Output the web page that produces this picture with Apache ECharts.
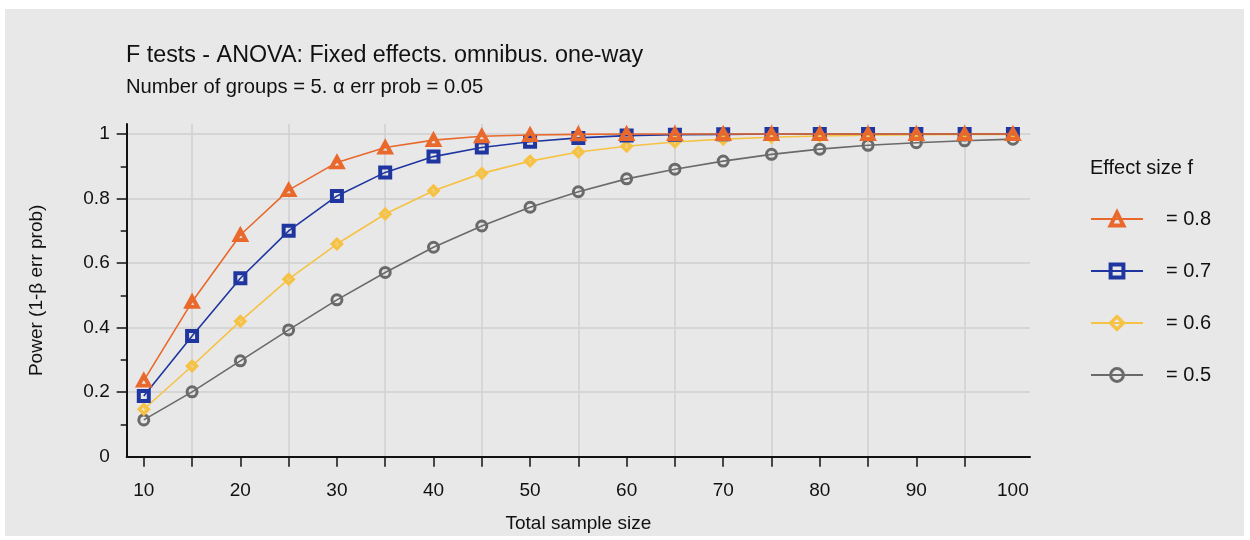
<!DOCTYPE html>
<html>
<head>
<meta charset="utf-8">
<script src="https://cdn.jsdelivr.net/npm/echarts@6/dist/echarts.min.js"></script>
<style>
  html, body { margin: 0; padding: 0; background: #ffffff; }
  #chart { width: 1250px; height: 540px; }
</style>
</head>
<body>
<div id="chart"></div>
<script>
// Total sample size (x) and power (1-β) for each effect size f
const sampleSizes = [10, 15, 20, 25, 30, 35, 40, 45, 50, 55, 60, 65, 70, 75, 80, 85, 90, 95, 100];
const powerF08 = [0.236, 0.480, 0.687, 0.826, 0.912, 0.958, 0.981, 0.993, 0.997, 0.999, 1.0, 1.0, 1.0, 1.0, 1.0, 1.0, 1.0, 1.0, 1.0];
const powerF07 = [0.188, 0.374, 0.553, 0.700, 0.808, 0.881, 0.930, 0.958, 0.976, 0.988, 0.995, 0.998, 0.999, 1.0, 1.0, 1.0, 1.0, 1.0, 1.0];
const powerF06 = [0.147, 0.281, 0.420, 0.550, 0.659, 0.752, 0.824, 0.878, 0.916, 0.944, 0.962, 0.975, 0.984, 0.990, 0.994, 0.996, 0.998, 0.999, 0.999];
const powerF05 = [0.114, 0.201, 0.297, 0.393, 0.486, 0.571, 0.649, 0.715, 0.773, 0.821, 0.861, 0.891, 0.916, 0.937, 0.953, 0.965, 0.973, 0.979, 0.984];

const seriesNames = ['= 0.8', '= 0.7', '= 0.6', '= 0.5'];

// Axis ticks and labels
const xTickValues = [10, 15, 20, 25, 30, 35, 40, 45, 50, 55, 60, 65, 70, 75, 80, 85, 90, 95];
const xTickLabels = [10, 20, 30, 40, 50, 60, 70, 80, 90, 100];
const xGridValues = [15, 25, 35, 45, 55, 65, 75, 85, 95];
const yTickLabels = [0, 0.2, 0.4, 0.6, 0.8, 1];
const yMajorTicks = [0.2, 0.4, 0.6, 0.8, 1];
const yMinorTicks = [0.1, 0.3, 0.5, 0.7, 0.9];

const FONT = '"Liberation Sans", Arial, Helvetica, sans-serif';
const X_MIN = 8.23, X_MAX = 101.77;
const Y_MIN = 0, Y_MAX = 1.031;

const pairs = vals => sampleSizes.map((n, i) => [n, vals[i]]);

const styles = [
  { color: '#e9692c', symbol: 'triangle', size: [11, 10], border: 4 },
  { color: '#1f36a0', symbol: 'rect', size: 10, border: 4 },
  { color: '#f6c244', symbol: 'diamond', size: 9, border: 3.5 },
  { color: '#6a6a6a', symbol: 'circle', size: 10, border: 3 }
];
const values = [powerF08, powerF07, powerF06, powerF05];

const markerStyle = i => ({
  color: 'rgba(0,0,0,0)',
  borderColor: styles[i].color,
  borderWidth: styles[i].border
});

const series = values.map((v, i) => ({
  name: seriesNames[i],
  type: 'line',
  data: pairs(v),
  symbol: styles[i].symbol,
  symbolSize: styles[i].size,
  showSymbol: true,
  z: 10 - i,
  lineStyle: { color: styles[i].color, width: 1.6 },
  itemStyle: markerStyle(i),
  emphasis: { disabled: true },
  animation: false
}));

const chart = echarts.init(document.getElementById('chart'), null, { renderer: 'canvas' });

chart.setOption({
  backgroundColor: '#ffffff',
  animation: false,
  textStyle: { fontFamily: FONT, color: '#111' },
  graphic: [{
    type: 'rect',
    z: -100,
    silent: true,
    shape: { x: 5, y: 9, width: 1239, height: 527 },
    style: { fill: '#e8e8e8' }
  }],
  title: [
    {
      text: 'F tests - ANOVA: Fixed effects. omnibus. one-way',
      left: 126, top: 44, padding: 0,
      textStyle: { fontFamily: FONT, fontSize: 23.3, fontWeight: 'normal', color: '#111' }
    },
    {
      text: 'Number of groups = 5. α err prob = 0.05',
      left: 126, top: 77, padding: 0,
      textStyle: { fontFamily: FONT, fontSize: 20.2, fontWeight: 'normal', color: '#111' }
    },
    {
      text: 'Effect size f',
      left: 1090, top: 158, padding: 0,
      textStyle: { fontFamily: FONT, fontSize: 20, fontWeight: 'normal', color: '#111' }
    }
  ],
  legend: {
    orient: 'vertical',
    left: 1090, top: 209,
    padding: 0,
    itemWidth: 52, itemHeight: 16, itemGap: 32,
    data: seriesNames.map((name, i) => ({
      name: name,
      itemStyle: markerStyle(i)
    })),
    textStyle: { fontFamily: FONT, fontSize: 20, color: '#111', padding: [0, 0, 0, 18] },
    selectedMode: false
  },
  grid: { left: 126.7, right: 220, top: 124, bottom: 83.3, containLabel: false },
  xAxis: [
    {
      type: 'value', min: X_MIN, max: X_MAX,
      name: 'Total sample size', nameLocation: 'middle', nameGap: 58,
      nameTextStyle: { fontFamily: FONT, fontSize: 19, color: '#111' },
      axisLine: { show: true, onZero: false, lineStyle: { color: '#111', width: 2 } },
      axisTick: { show: true, length: 10, customValues: xTickValues, lineStyle: { color: '#111', width: 1.5 } },
      axisLabel: { customValues: xTickLabels, margin: 25, fontFamily: FONT, fontSize: 19, color: '#111' },
      splitLine: { show: false }
    },
    {
      type: 'value', min: X_MIN, max: X_MAX, position: 'bottom',
      axisLine: { show: false },
      axisTick: { show: false, customValues: xGridValues },
      axisLabel: { show: false },
      splitLine: { show: true, lineStyle: { color: '#d0d0d0', width: 1.5 } }
    }
  ],
  yAxis: [
    {
      type: 'value', min: Y_MIN, max: Y_MAX,
      name: 'Power (1-β err prob)', nameLocation: 'middle', nameGap: 80, nameRotate: 90,
      nameTextStyle: { fontFamily: FONT, fontSize: 19, color: '#111' },
      axisLine: { show: true, onZero: false, lineStyle: { color: '#111', width: 2 } },
      axisTick: { show: true, length: 10, customValues: yMajorTicks, lineStyle: { color: '#111', width: 1.5 } },
      axisLabel: { customValues: yTickLabels, margin: 17, fontFamily: FONT, fontSize: 19, color: '#111' },
      splitLine: { show: true, lineStyle: { color: '#cfcfcf', width: 1.5 } }
    },
    {
      type: 'value', min: Y_MIN, max: Y_MAX, position: 'left', offset: 0,
      axisLine: { show: false },
      axisTick: { show: true, length: 6, customValues: yMinorTicks, lineStyle: { color: '#111', width: 1.5 } },
      axisLabel: { show: false },
      splitLine: { show: false }
    }
  ],
  series: series.slice().reverse()
});
</script>
</body>
</html>
